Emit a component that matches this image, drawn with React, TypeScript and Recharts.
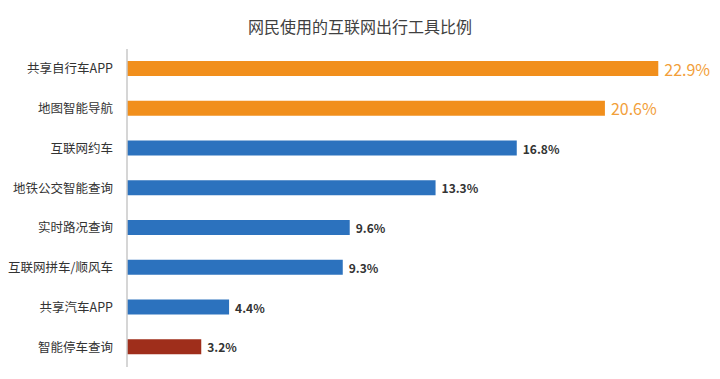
import React from "react";
import { BarChart, Bar, XAxis, YAxis, Cell, LabelList } from "recharts";

const categories = [
  "共享自行车APP",
  "地图智能导航",
  "互联网约车",
  "地铁公交智能查询",
  "实时路况查询",
  "互联网拼车/顺风车",
  "共享汽车APP",
  "智能停车查询",
];
const shares = [22.9, 20.6, 16.8, 13.3, 9.6, 9.3, 4.4, 3.2];

const ORANGE = "#F18F1C";
const BLUE = "#2C72BE";
const RED = "#9F2E1B";
const FONT = "'Noto Sans CJK SC', 'Noto Sans', sans-serif";

const barColor = (i: number) => (i < 2 ? ORANGE : i === categories.length - 1 ? RED : BLUE);

const data = categories.map((name, i) => ({ name, value: shares[i] }));

function ValueLabel(props: any) {
  const { x, y, width, height, value, index } = props;
  const top = index < 2;
  return (
    <text
      x={x + width + 6}
      y={y + height / 2}
      dominantBaseline="central"
      fontFamily={FONT}
      fontSize={top ? 16 : 12}
      fontWeight={top ? 400 : 700}
      fill={top ? "#F2A03A" : "#333333"}
    >
      {value.toFixed(1)}%
    </text>
  );
}

export default function App() {
  return (
    <div style={{ position: "absolute", left: 0, top: 0, width: 720, height: 379, background: "#fff" }}>
      <div
        style={{
          position: "absolute",
          top: 14,
          left: 0,
          width: 720,
          textAlign: "center",
          fontFamily: FONT,
          fontSize: 16,
          color: "#404040",
        }}
      >
        网民使用的互联网出行工具比例
      </div>
      <BarChart
        width={720}
        height={379}
        data={data}
        layout="vertical"
        margin={{ top: 49, right: 13, bottom: 12, left: 0 }}
        barCategoryGap={0}
      >
        <XAxis type="number" domain={[0, 25]} hide />
        <YAxis
          type="category"
          dataKey="name"
          width={127}
          tickLine={false}
          axisLine={{ stroke: "#C8C8C8", strokeWidth: 1.5 }}
          tickMargin={8}
          tick={{ fill: "#333333", fontSize: 12.5, fontFamily: FONT }}
        />
        <Bar dataKey="value" barSize={15} isAnimationActive={false}>
          {data.map((_, i) => (
            <Cell key={i} fill={barColor(i)} />
          ))}
          <LabelList dataKey="value" content={<ValueLabel />} />
        </Bar>
      </BarChart>
    </div>
  );
}
